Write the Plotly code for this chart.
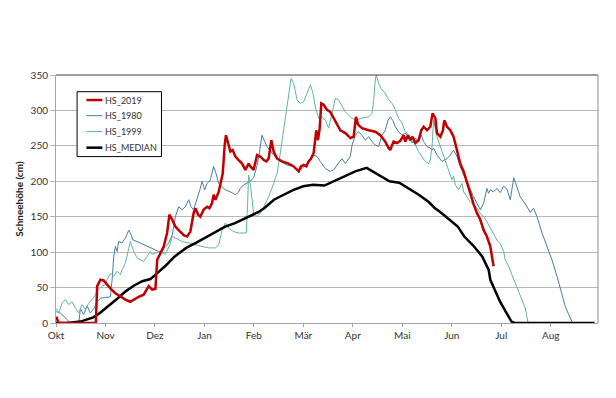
import plotly.graph_objects as go

month_labels = ["Okt", "Nov", "Dez", "Jan", "Feb", "Mär", "Apr", "Mai", "Jun", "Jul", "Aug"]

# x = days since 1 October
hs2019_day = [0.2, 1.5, 24.5, 25.3, 26.2, 27.3, 29.3, 31.4, 33.4, 36.5,
              39.6, 42.7, 45.7, 47.8, 50.8, 53.9, 57, 59.1, 61.1, 62.2,
              64.2, 66.2, 68.3, 69.7, 71.4, 73.4, 75.4, 78.5, 80.6, 82.6,
              84.6, 85.7, 87.3, 88.7, 90.8, 92.9, 94.3, 95.9, 96.9, 98,
              100, 101.7, 102.5, 103.7, 104.5, 105.8, 107.2, 108.6, 110.3, 112.3,
              114.4, 116.4, 118.4, 119.5, 121.5, 123.6, 125.6, 127.7, 129.3, 130.7,
              132.4, 133.8, 135.9, 139, 143, 146.1, 149.2, 150.6, 152.2, 153.9,
              155.3, 156.8, 158.4, 160, 161.1, 162.1, 163.1, 164.5, 166.6, 168.6,
              170.7, 172.8, 174.8, 177.9, 181, 183, 184.4, 185.7, 188.1, 192.2,
              196.3, 199.4, 202.4, 204.5, 205.5, 206.6, 207.5, 209.6, 211.7, 213.7,
              214.7, 216.4, 217.8, 219.2, 220.9, 222.9, 224.6, 226, 228.1, 230.1,
              231.5, 233.2, 234.2, 236.3, 237.9, 238.7, 240.4, 242.4, 244.4, 246.5,
              248.5, 250.6, 252.7, 254.7, 256.8, 258.8, 260.8, 262.9, 264.9, 267,
              268, 269]
hs2019_cm = [9, 0, 0, 52, 56, 61, 60, 54, 49, 42,
             37, 33, 30, 33, 37, 40, 52, 47, 48, 89,
             99, 108, 127, 153, 146, 136, 131, 124, 122, 129,
             155, 162, 153, 150, 160, 164, 162, 169, 181, 174,
             185, 200, 211, 251, 265, 254, 242, 244, 235, 230,
             225, 216, 225, 221, 216, 237, 235, 230, 228, 232,
             258, 242, 232, 228, 225, 221, 214, 221, 223, 221,
             228, 232, 240, 272, 258, 275, 310, 308, 301, 298,
             289, 280, 272, 268, 261, 263, 291, 280, 275, 272,
             270, 265, 256, 247, 244, 251, 256, 254, 257, 265,
             256, 265, 258, 263, 254, 258, 272, 277, 272, 277,
             296, 289, 268, 263, 272, 286, 277, 272, 263, 244,
             225, 214, 197, 181, 167, 155, 146, 131, 122, 108,
             92, 80]

hs1980_day = [0.2, 2.7, 6.8, 8.9, 14, 15, 17, 19.1, 21.1, 23.2,
              25.3, 27.3, 30.4, 33.4, 34.5, 35.5, 36.5, 37.6, 38.5, 40.6,
              42.7, 44.7, 45.7, 47.4, 49.8, 52.9, 56, 59.1, 63.1, 65.2,
              67.2, 69.3, 71.4, 73.4, 75.4, 77.5, 79.5, 81.6, 83, 84.6,
              86.7, 88.7, 89.8, 91.4, 92.9, 94.9, 96.9, 98.4, 100, 102.1,
              104.1, 107.2, 110.3, 112.3, 113.3, 115.4, 117.4, 119.5, 121.5, 123.6,
              125, 126.6, 129.7, 133.8, 137.9, 142, 146.1, 149.2, 151.3, 154.3,
              156.4, 158.4, 160.5, 162.5, 165.6, 168.6, 170.7, 172.8, 174.8, 175.8,
              177.9, 180.9, 182, 184, 186, 188.1, 190.2, 192.2, 194.3, 196.3,
              198.3, 200.4, 202.4, 204.1, 205.5, 207, 208.6, 210.6, 212.7, 214.7,
              216.8, 218.9, 220.9, 222.9, 224.6, 226, 228.1, 230.1, 231.2, 232.1,
              234.2, 237.3, 240.4, 242.4, 244.4, 246.5, 248.5, 250.6, 252.7, 254.7,
              256.7, 258.8, 260.8, 262.9, 263.9, 264.9, 265.9, 267, 269, 271.1,
              273.1, 275.2, 277.2, 279.3, 281.4, 283.4, 285.4, 288.5, 291.6, 293.6,
              295.7, 298.8, 301.8, 304.9, 308, 311, 313.1, 315.2, 317.2, 318.2]
hs1980_cm = [16, 14, 5, 0, 0, 20, 12, 24, 14, 20,
             30, 35, 36, 37, 61, 94, 108, 101, 115, 113,
             120, 131, 127, 117, 115, 112, 108, 106, 101, 101,
             108, 113, 124, 150, 164, 160, 164, 174, 164, 160,
             174, 190, 200, 188, 197, 202, 221, 211, 197, 193,
             188, 185, 181, 185, 190, 195, 197, 200, 205, 222,
             240, 265, 249, 237, 228, 223, 221, 216, 218, 225,
             230, 237, 235, 228, 218, 214, 216, 223, 228, 232,
             225, 235, 251, 265, 270, 265, 258, 263, 256, 251,
             249, 265, 272, 286, 291, 286, 277, 270, 265, 268,
             263, 254, 261, 256, 265, 256, 249, 247, 244, 247,
             237, 228, 232, 237, 244, 235, 221, 209, 200, 188,
             178, 169, 160, 169, 178, 190, 183, 188, 185, 190,
             184, 193, 189, 174, 205, 190, 178, 168, 156, 162,
             150, 127, 108, 89, 66, 42, 23, 12, 2, 0]

hs1999_day = [0.2, 1.7, 3.7, 5.8, 7.8, 9.9, 11.9, 14, 16, 18.1,
              20.1, 22.2, 24.2, 26.2, 28.3, 30.4, 31.4, 33.4, 35.5, 37.6,
              39.6, 40.6, 42.7, 44.7, 45.7, 47.8, 49.8, 51.9, 53.9, 56,
              58, 59.1, 63.1, 65.2, 67.2, 70.3, 71.4, 73.4, 75.4, 77.5,
              81.6, 85.7, 89.8, 93.9, 98, 100, 102.1, 104.1, 106.1, 109.2,
              112.3, 115.4, 117, 117.8, 118.4, 119.5, 120.5, 121.5, 123.6, 125.6,
              127.7, 130.7, 133.8, 135.9, 137.9, 139.9, 142, 143.6, 144.5, 146.1,
              148.2, 150.2, 152.2, 154.3, 156.4, 158, 159.4, 161.5, 163.5, 165.6,
              167.6, 169.7, 171.7, 173.7, 174.8, 177.9, 180.9, 184, 188.1, 192.2,
              194.3, 195.3, 196.3, 196.9, 198.3, 200.4, 202.4, 204.5, 206.6, 208.6,
              210.6, 212.7, 214.7, 216.8, 218.9, 220.9, 222.9, 225, 227, 229.1,
              230.1, 231.2, 232.1, 234.2, 236.3, 238.3, 240.4, 242.4, 243.4, 244.4,
              245.5, 247.5, 249.6, 250.6, 252.7, 254.7, 256.7, 258.8, 260.8, 262.9,
              264.9, 267, 269, 271.1, 273.1, 275.2, 276.2, 278.3, 280.3, 282.4,
              284.5, 286.5, 288.5, 289.5, 290.2]
hs1999_cm = [20, 14, 28, 33, 26, 30, 21, 14, 26, 19,
             28, 33, 40, 47, 52, 54, 61, 70, 66, 73,
             68, 75, 85, 108, 115, 101, 92, 89, 87, 94,
             101, 97, 100, 99, 97, 112, 122, 120, 117, 115,
             113, 110, 108, 106, 106, 110, 131, 141, 134, 129,
             127, 127, 127, 169, 209, 195, 169, 155, 150, 155,
             164, 178, 197, 211, 240, 272, 310, 338, 345, 338,
             315, 310, 312, 324, 336, 324, 305, 289, 291, 286,
             275, 296, 317, 315, 310, 298, 291, 286, 289, 291,
             296, 315, 343, 350, 338, 329, 324, 315, 310, 301,
             289, 282, 270, 265, 258, 251, 242, 235, 228, 225,
             230, 250, 286, 263, 249, 235, 221, 209, 202, 207,
             195, 188, 197, 185, 178, 171, 167, 162, 155, 150,
             143, 134, 127, 117, 112, 101, 89, 80, 68, 56,
             42, 33, 21, 9, 0]

median_day = [0, 7, 15, 19, 23, 27, 32, 38, 43, 48,
              53, 58, 61, 67, 73, 80, 86, 92, 98, 104,
              110, 116, 120, 124, 128, 134, 140, 146, 152, 158,
              165, 171, 175, 178, 184, 191, 198, 205, 211, 217,
              223, 229, 233, 236, 242, 247, 251, 257, 262, 266,
              267, 273, 277, 280, 282, 331]
median_cm = [0, 0, 2, 5, 8, 14, 23, 35, 45, 53,
             59, 62, 68, 80, 94, 106, 113, 121, 128, 136,
             141, 147, 151, 156, 162, 174, 181, 188, 193, 195,
             194, 200, 204, 207, 214, 219, 209, 200, 198, 190,
             181, 171, 162, 157, 146, 136, 122, 108, 94, 75,
             61, 30, 14, 2, 0, 0]

FONT = "Lato"
series = [
    ("HS_1980", hs1980_day, hs1980_cm, "#4a7ca3", 1),
    ("HS_1999", hs1999_day, hs1999_cm, "#62b5a0", 1),
    ("HS_MEDIAN", median_day, median_cm, "#000000", 2.5),
    ("HS_2019", hs2019_day, hs2019_cm, "#c00000", 2.5),
]
legend_order = ["HS_2019", "HS_1980", "HS_1999", "HS_MEDIAN"]

fig = go.Figure()
for name, xd, yd, col, w in series:
    fig.add_trace(go.Scatter(x=xd, y=yd, mode="lines", name=name,
                             line=dict(color=col, width=w), showlegend=False))

# Legend box drawn like the Excel original (paper coordinates of the plot area)
style = {s[0]: (s[3], s[4]) for s in series}
shapes = [
    dict(type="line", xref="paper", yref="paper", x0=0, x1=1, y0=1, y1=1,
         line=dict(color="#404040", width=1)),
    dict(type="line", xref="paper", yref="paper", x0=1, x1=1, y0=0, y1=1,
         line=dict(color="#8c8c8c", width=1)),
    dict(type="rect", xref="paper", yref="paper", x0=0.0389, x1=0.1946, y0=0.671, y1=0.9327,
         line=dict(color="#000000", width=1), fillcolor="white", layer="above"),
]
annotations = []
ys = [0.899, 0.836, 0.772, 0.707]
for name, yy in zip(legend_order, ys):
    col, w = style[name]
    shapes.append(dict(type="line", xref="paper", yref="paper", x0=0.0561, x1=0.0856,
                       y0=yy, y1=yy, line=dict(color=col, width=w), layer="above"))
    annotations.append(dict(xref="paper", yref="paper", x=0.0862, y=yy, text=name,
                            showarrow=False, xanchor="left", yanchor="middle",
                            font=dict(family=FONT, size=9, color="#333333")))

month_len = 365 / 12
# page body has an 8px offset; margins compensate so plot area matches the original
fig.update_layout(
    width=616, height=398,
    margin=dict(l=48, r=26, t=67, b=83, autoexpand=False),
    paper_bgcolor="white", plot_bgcolor="white",
    font=dict(family=FONT, size=10, color="#333333"),
    showlegend=False,
    xaxis=dict(range=[0, 333.2], tickvals=[i * month_len for i in range(len(month_labels))],
               ticktext=month_labels, showgrid=False, zeroline=False,
               showline=True, linecolor="#a6a6a6", linewidth=1,
               ticks="outside", ticklen=3, tickcolor="#a6a6a6",
               tickfont=dict(family=FONT, size=10, color="#333333")),
    yaxis=dict(range=[0, 350], dtick=50, showgrid=True, gridcolor="#b8b8b8", gridwidth=1,
               zeroline=False, showline=True, linecolor="#a6a6a6", linewidth=1,
               ticks="outside", ticklen=5, tickcolor="#b8b8b8",
               tickfont=dict(family=FONT, size=10, color="#333333"),
               title=dict(text="<b>Schneehöhe (cm)</b>", standoff=5,
                          font=dict(family=FONT, size=10, color="#222222"))),
    shapes=shapes,
    annotations=annotations,
)

fig.write_html("out.html")
